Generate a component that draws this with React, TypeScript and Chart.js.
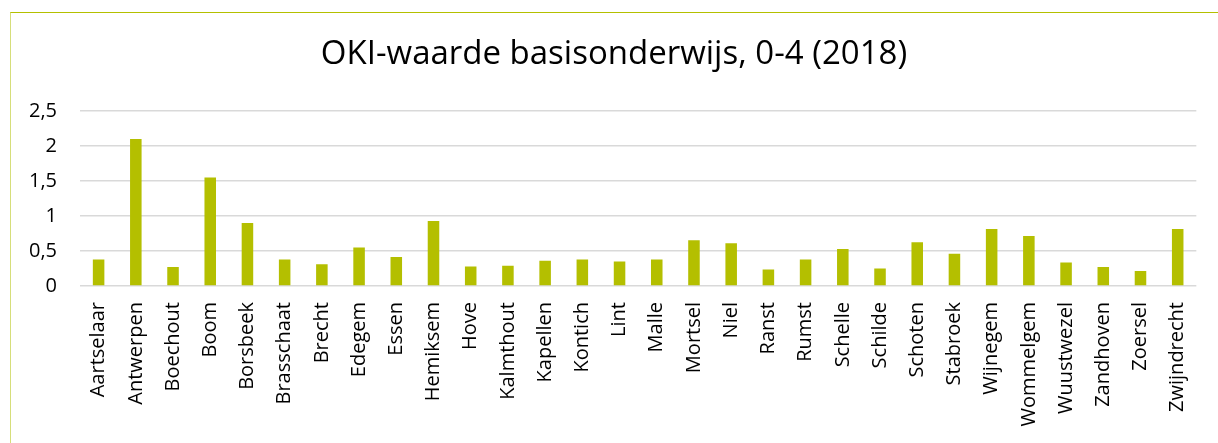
import React, { useEffect, useRef } from "react";
import { Chart, registerables } from "chart.js";

Chart.register(...registerables);

const titleText = "OKI-waarde basisonderwijs, 0-4 (2018)";

const categories = [
  "Aartselaar", "Antwerpen", "Boechout", "Boom", "Borsbeek", "Brasschaat", "Brecht", "Edegem", "Essen", "Hemiksem",
  "Hove", "Kalmthout", "Kapellen", "Kontich", "Lint", "Malle", "Mortsel", "Niel", "Ranst", "Rumst",
  "Schelle", "Schilde", "Schoten", "Stabroek", "Wijnegem", "Wommelgem", "Wuustwezel", "Zandhoven", "Zoersel", "Zwijndrecht",
];

const values = [
  0.38, 2.1, 0.27, 1.55, 0.9, 0.38, 0.31, 0.55, 0.415, 0.93,
  0.28, 0.29, 0.36, 0.38, 0.35, 0.38, 0.655, 0.61, 0.235, 0.38,
  0.53, 0.25, 0.625, 0.46, 0.815, 0.715, 0.335, 0.27, 0.215, 0.815,
];

const yMin = 0;
const yMax = 2.5;
const yStep = 0.5;

const W = 1218;
const H = 443;
const FONT = "'Open Sans', 'DejaVu Sans', sans-serif";

export default function App() {
  const ref = useRef<HTMLCanvasElement | null>(null);

  useEffect(() => {
    document.body.style.margin = "0";
    const canvas = ref.current;
    if (!canvas) return;
    const chart = new Chart(canvas, {
      type: "bar",
      data: {
        labels: categories,
        datasets: [
          {
            data: values,
            backgroundColor: "#b4bf00",
            borderWidth: 0,
            barPercentage: 0.31,
            categoryPercentage: 1,
          },
        ],
      },
      options: {
        responsive: false,
        animation: false,
        devicePixelRatio: 1,
        layout: { padding: { left: 28, right: 18, top: 0, bottom: 0 } },
        plugins: {
          legend: { display: false },
          tooltip: { enabled: false },
          title: {
            display: true,
            text: titleText,
            color: "#000",
            font: { family: FONT, size: 33, weight: "normal", lineHeight: 1.2 },
            padding: { top: 35, bottom: 36.5 },
          },
        },
        scales: {
          x: {
            grid: { display: false, drawTicks: false },
            border: { display: false },
            ticks: {
              color: "#000",
              font: { family: FONT, size: 20 },
              maxRotation: 90,
              minRotation: 90,
              autoSkip: false,
              padding: 16,
            },
            afterFit: (s: any) => {
              s.height = H - 286;
            },
          },
          y: {
            min: yMin,
            max: yMax,
            grid: { color: "#d9d9d9", lineWidth: 1.5, drawTicks: false },
            border: { display: false },
            ticks: {
              stepSize: yStep,
              color: "#000",
              font: { family: FONT, size: 20 },
              padding: 23,
              callback: (v: any) => String(Number(v)).replace(".", ","),
            },
            afterFit: (s: any) => {
              s.width = 52;
            },
          },
        },
      },
    });
    return () => chart.destroy();
  }, []);

  return (
    <div style={{ position: "fixed", left: 0, top: 0, width: W, height: H, background: "#fff", overflow: "hidden" }}>
      <div
        style={{
          position: "absolute",
          left: 10,
          top: 12,
          width: W,
          height: H,
          borderTop: "1px solid #b4c000",
          borderLeft: "1px solid #d6de7a",
          boxSizing: "border-box",
        }}
      />
      <canvas ref={ref} width={W} height={H} style={{ position: "absolute", left: 0, top: 0, width: W, height: H }} />
    </div>
  );
}
